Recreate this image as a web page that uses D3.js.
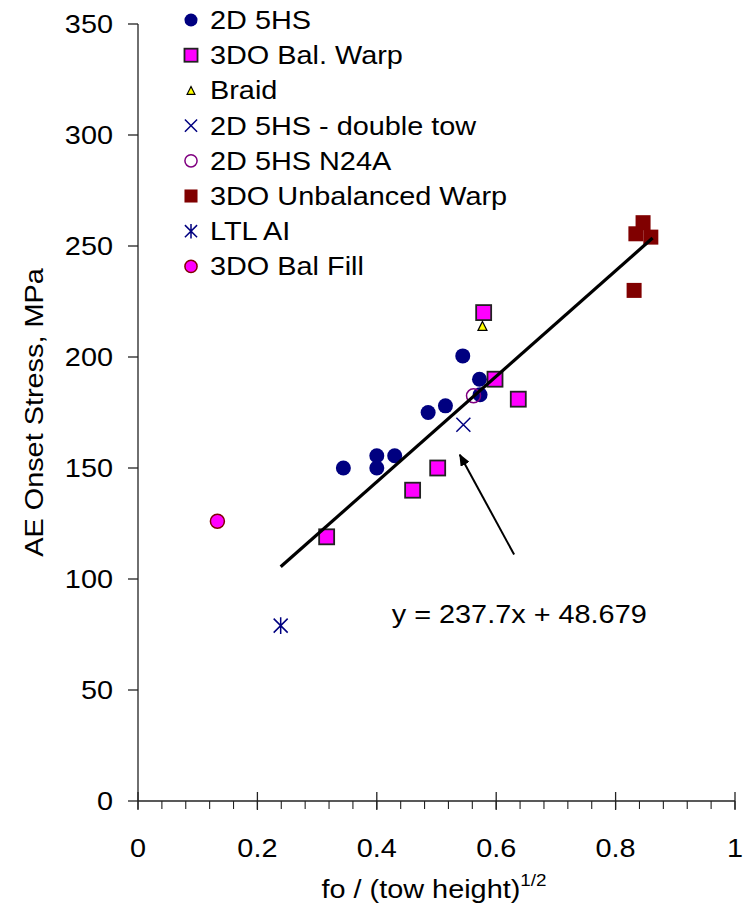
<!DOCTYPE html>
<html>
<head>
<meta charset="utf-8">
<script src="https://cdn.jsdelivr.net/npm/d3@7"></script>
<style>
body { margin: 0; background: #fff; }
text { font-family: "Liberation Sans", Arial, sans-serif; fill: #000; }
</style>
</head>
<body>
<script>
// values
var seriesNames = ["2D 5HS", "3DO Bal. Warp", "Braid", "2D 5HS - double tow", "2D 5HS N24A", "3DO Unbalanced Warp", "LTL AI", "3DO Bal Fill"];

var hs5X = [0.344, 0.40, 0.40, 0.43, 0.486, 0.515, 0.544, 0.572, 0.573];
var hs5Y = [150, 155.5, 150, 155.5, 175, 178, 200.5, 190, 183];
var balWarpX = [0.316, 0.46, 0.502, 0.579, 0.598, 0.637];
var balWarpY = [119, 140, 150, 220, 190, 181];
var braidX = [0.577];
var braidY = [214];
var doubleTowX = [0.545];
var doubleTowY = [169.5];
var n24aX = [0.562];
var n24aY = [182.5];
var unbalWarpX = [0.831, 0.834, 0.846, 0.859];
var unbalWarpY = [230, 255.5, 260.5, 254];
var ltlX = [0.239];
var ltlY = [79];
var balFillX = [0.133];
var balFillY = [126];

var slope = 237.7, intercept = 48.679;
var fitRange = [0.239, 0.862];
var equationText = "y = 237.7x + 48.679";
var arrowFrom = [0.630, 111];
var arrowTo = [0.539, 156];
var equationAt = [0.425, 80];

var xTicks = [0, 0.2, 0.4, 0.6, 0.8, 1];
var yTicks = [0, 50, 100, 150, 200, 250, 300, 350];

var allX = [hs5X, balWarpX, braidX, doubleTowX, n24aX, unbalWarpX, ltlX, balFillX];
var allY = [hs5Y, balWarpY, braidY, doubleTowY, n24aY, unbalWarpY, ltlY, balFillY];

// marker look per series
var looks = [
  {kind: "circle", fill: "#000080", stroke: "none", size: 7.5},
  {kind: "square", fill: "#ff00ff", stroke: "#222", size: 7.5},
  {kind: "triangle", fill: "#ffff00", stroke: "#000", size: 4.5},
  {kind: "x", fill: "none", stroke: "#000080", size: 7},
  {kind: "circle", fill: "none", stroke: "#800080", size: 7},
  {kind: "square", fill: "#800000", stroke: "none", size: 7.5},
  {kind: "star", fill: "none", stroke: "#000080", size: 7},
  {kind: "circle", fill: "#ff00ff", stroke: "#800000", size: 7}
];

var W = 747, H = 919;
var FS = 26, SX = 1.11;

var svg = d3.select("body").append("svg").attr("width", W).attr("height", H);

var x = d3.scaleLinear().domain([0, 1]).range([138, 735]);
var y = d3.scaleLinear().domain([0, 350]).range([801, 24]);

function label(parent, px, py, s, anchor, size, rot) {
  return parent.append("text")
    .attr("transform", "translate(" + px + "," + py + ")" + (rot ? " rotate(" + rot + ")" : "") + " scale(" + SX + ",1)")
    .attr("text-anchor", anchor)
    .style("font-size", size + "px")
    .text(s);
}

function drawMarker(g, look, k) {
  var s = look.size * k;
  if (look.kind == "circle") {
    g.append("circle").attr("r", s)
      .style("fill", look.fill).style("stroke", look.stroke).style("stroke-width", 1.5);
  } else if (look.kind == "square") {
    g.append("rect").attr("x", -s).attr("y", -s).attr("width", 2 * s).attr("height", 2 * s)
      .style("fill", look.fill).style("stroke", look.stroke).style("stroke-width", 1.8);
  } else if (look.kind == "triangle") {
    g.append("path").attr("d", "M0," + (-s) + "L" + s + "," + s + "L" + (-s) + "," + s + "Z")
      .style("fill", look.fill).style("stroke", look.stroke).style("stroke-width", 1.2);
  } else {
    var d = "M" + (-s) + "," + (-s) + "L" + s + "," + s + "M" + s + "," + (-s) + "L" + (-s) + "," + s;
    if (look.kind == "star") d += "M0," + (-s * 1.2) + "L0," + (s * 1.2);
    g.append("path").attr("d", d).style("fill", "none").style("stroke", look.stroke).style("stroke-width", 1.5);
  }
}

// y axis
svg.append("line").attr("x1", x(0)).attr("x2", x(0)).attr("y1", y(350)).attr("y2", y(0))
  .style("stroke", "#222").style("stroke-width", 1.3);
yTicks.forEach(function(t) {
  svg.append("line").attr("x1", x(0) - 10).attr("x2", x(0)).attr("y1", y(t)).attr("y2", y(t))
    .style("stroke", "#222").style("stroke-width", 1.3);
  label(svg, 113, y(t) + 9, t, "end", FS);
});

// x axis
svg.append("line").attr("x1", x(0)).attr("x2", x(1)).attr("y1", y(0)).attr("y2", y(0))
  .style("stroke", "#222").style("stroke-width", 1.3);
d3.range(0, 1.0001, 0.04).forEach(function(t) {
  svg.append("line").attr("x1", x(t)).attr("x2", x(t)).attr("y1", y(0)).attr("y2", y(0) + 8)
    .style("stroke", "#222").style("stroke-width", 1.1);
});
xTicks.forEach(function(t) {
  svg.append("line").attr("x1", x(t)).attr("x2", x(t)).attr("y1", y(0) - 9).attr("y2", y(0) + 9)
    .style("stroke", "#222").style("stroke-width", 1.3);
  label(svg, x(t), 857, t, "middle", FS);
});

// axis titles
label(svg, 43, (y(0) + y(350)) / 2, "AE Onset Stress, MPa", "middle", FS, -90);
var xt = label(svg, 434, 898, "fo / (tow height)", "middle", FS);
xt.append("tspan").attr("dy", -12).style("font-size", "17px").text("1/2");

// points
allX.forEach(function(xs, i) {
  xs.forEach(function(v, j) {
    var g = svg.append("g").attr("transform", "translate(" + x(v) + "," + y(allY[i][j]) + ")");
    drawMarker(g, looks[i], 1);
  });
});

// linear fit
svg.append("line")
  .attr("x1", x(fitRange[0])).attr("y1", y(slope * fitRange[0] + intercept))
  .attr("x2", x(fitRange[1])).attr("y2", y(slope * fitRange[1] + intercept))
  .style("stroke", "#000").style("stroke-width", 3.2);

// arrow + equation
svg.append("defs").append("marker").attr("id", "head")
  .attr("viewBox", "0 0 12 10").attr("refX", 11).attr("refY", 5)
  .attr("markerWidth", 12).attr("markerHeight", 10).attr("markerUnits", "userSpaceOnUse")
  .attr("orient", "auto")
  .append("path").attr("d", "M0,0L12,5L0,10Z").style("fill", "#000");
svg.append("line")
  .attr("x1", x(arrowFrom[0])).attr("y1", y(arrowFrom[1]))
  .attr("x2", x(arrowTo[0])).attr("y2", y(arrowTo[1]))
  .style("stroke", "#000").style("stroke-width", 2)
  .attr("marker-end", "url(#head)");
label(svg, x(equationAt[0]), y(equationAt[1]), equationText, "start", FS);

// legend
seriesNames.forEach(function(name, i) {
  var ry = 20 + i * 35.2;
  var g = svg.append("g").attr("transform", "translate(191," + ry + ")");
  drawMarker(g, looks[i], 0.87);
  label(svg, 210, ry + 9, name, "start", FS);
});
</script>
</body>
</html>
